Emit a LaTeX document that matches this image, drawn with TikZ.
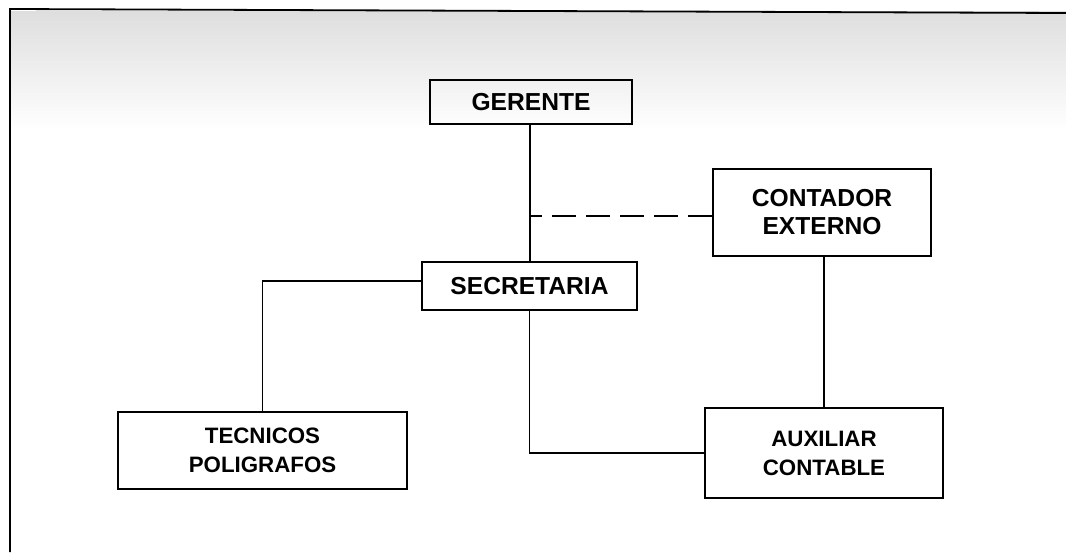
\documentclass[tikz,border=0pt]{standalone}
\usepackage{fontspec}
\setmainfont{Liberation Sans}
\begin{document}
\begin{tikzpicture}[x=1pt,y=-1pt,
  orgbox/.style={draw=black, line width=1.7pt, inner sep=0pt, align=center, font=\bfseries\fontsize{24.6}{28}\selectfont},
  lowbox/.style={orgbox, font=\bfseries\fontsize{22.3}{29}\selectfont},
  link/.style={draw=black, line width=1.4pt},
  dashlink/.style={link, dash pattern=on 24pt off 10pt}]
\useasboundingbox (0,0) rectangle (1066,552);
\fill[white] (0,0) rectangle (1066,552);
% scan texture at the top
\shade[top color=black!13, bottom color=white] (11,11) rectangle (1066,130);
% frame
\draw[line width=1.8pt] (10,552) -- (10,9) -- (1066,13);
% boxes
\node[orgbox, minimum width=202pt, minimum height=44pt] (ger) at (531,102) {GERENTE};
\node[orgbox, minimum width=218pt, minimum height=87pt] (con) at (822,212.5) {CONTADOR\\EXTERNO};
\node[orgbox, minimum width=215pt, minimum height=48pt] (sec) at (529.5,286) {SECRETARIA};
\node[lowbox, minimum width=289pt, minimum height=77pt] (tec) at (262.5,450.5) {TECNICOS\\POLIGRAFOS};
\node[lowbox, minimum width=238pt, minimum height=90pt] (aux) at (824,453) {AUXILIAR\\CONTABLE};
% connectors
\coordinate (j1) at (530,216);
\draw[link] (ger.south -| j1) -- (j1 |- sec.north);
\draw[dashlink] (j1 -| con.west) -- (j1);
\draw[link] ([yshift=5pt]sec.west) -| (tec.north);
\draw[link] (sec.south) |- (aux.west);
\draw[link] (con.south -| aux.north) -- (aux.north);
\end{tikzpicture}
\end{document}
